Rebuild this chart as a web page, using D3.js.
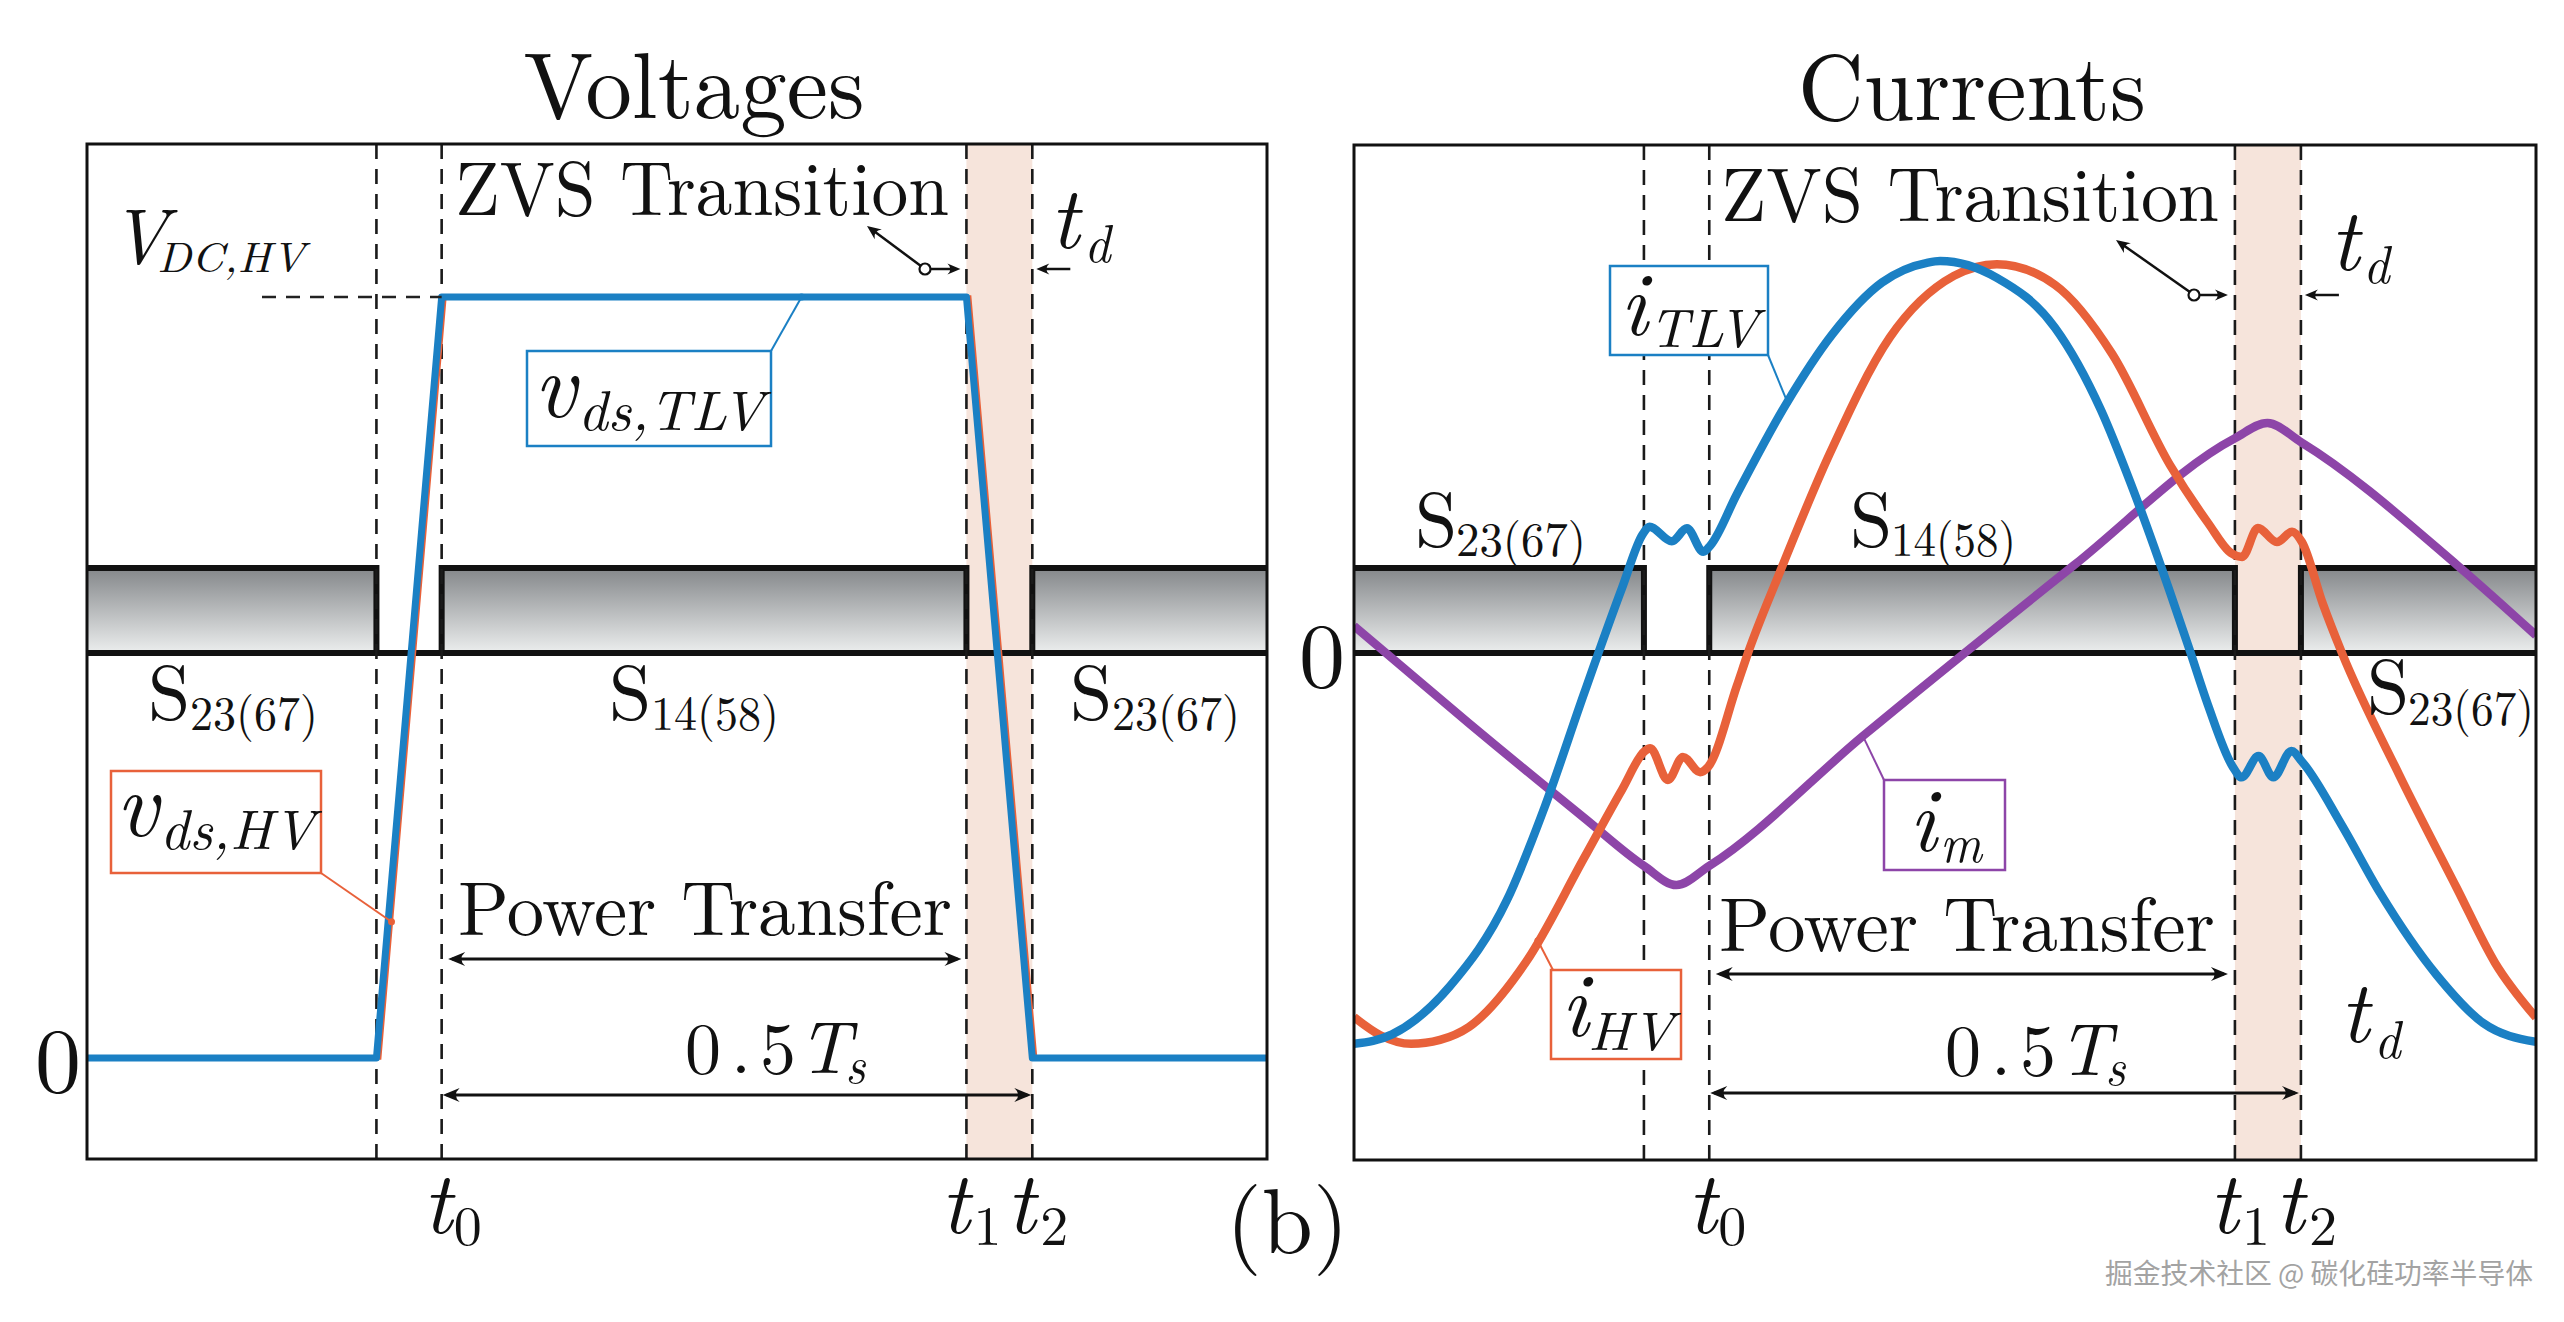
<!DOCTYPE html>
<html><head><meta charset="utf-8">
<script src="https://cdn.jsdelivr.net/npm/d3@7"></script>
<style>html,body{margin:0;padding:0;background:#fff;} svg{display:block}</style>
</head><body>
<svg id="chart" width="2564" height="1322"></svg>
<script>
// ================= DATA (time in electrical degrees over one switching period) =================
const timeMarkers = [88.3, 108.2, 268.3, 288.4];          // dead-time start, t0, t1, t2
const gateOnIntervals = [[0, 88.3], [108.2, 268.3], [288.4, 360]];
const gateLevels = [0, 1];                                  // gate signal low / high

// Voltages panel (normalised to V_DC,HV)
const vdsTLV_t = [0, 88.3, 108.2, 268.3, 288.4, 360];
const vdsTLV_v = [0, 0, 1, 1, 0, 0];
const vdsHV_t  = [0, 89.3, 109.2, 269.3, 289.4, 360];
const vdsHV_v  = [0, 0, 1, 1, 0, 0];

// Currents panel (normalised to peak of i_TLV)
const iTLV_t = [0, 11.6, 29.2, 46.6, 58.2, 70.0, 81.6, 88.0, 90.0, 96.8, 101.4, 106.4, 108.6, 116.6, 131.6, 145.6, 160.8, 174.8, 178.5, 195.8, 213.5, 227.5, 236.7, 248.5, 254.3, 260.1, 267.7, 270.3, 275.5, 280.0, 285.5, 288.8, 300.9, 312.5, 329.8, 343.9, 360];
const iTLV_v = [-0.997, -0.973, -0.850, -0.630, -0.390, -0.105, 0.165, 0.304, 0.322, 0.285, 0.318, 0.258, 0.275, 0.405, 0.635, 0.812, 0.945, 0.996, 1.0, 0.957, 0.830, 0.620, 0.430, 0.156, 0.013, -0.133, -0.291, -0.317, -0.263, -0.317, -0.250, -0.278, -0.440, -0.612, -0.822, -0.944, -0.992];

const iHV_t = [0, 8.0, 17.4, 26.2, 35.0, 52.4, 70.0, 81.6, 88.6, 90.2, 95.6, 100.2, 105.4, 107.8, 116.6, 120.0, 129.4, 144.7, 163.2, 182.7, 195.8, 213.5, 230.9, 248.5, 260.1, 267.1, 270.5, 275.3, 281.1, 285.7, 288.7, 295.1, 300.9, 318.3, 335.9, 347.5, 360];
const iHV_v = [-0.929, -0.975, -0.997, -0.987, -0.954, -0.788, -0.524, -0.349, -0.250, -0.243, -0.324, -0.265, -0.304, -0.291, -0.084, 0.0, 0.200, 0.505, 0.805, 0.962, 0.992, 0.939, 0.763, 0.480, 0.332, 0.255, 0.245, 0.319, 0.283, 0.309, 0.283, 0.125, 0.0, -0.310, -0.600, -0.790, -0.930];

const im_t = [0, 35.0, 70.0, 88.3, 98.2, 108.2, 155.0, 219.3, 268.3, 278.2, 288.4, 336.0, 360];
const im_v = [0.069, -0.179, -0.420, -0.543, -0.592, -0.543, -0.212, 0.224, 0.548, 0.587, 0.538, 0.224, 0.045];

const panelTitles = ["Voltages", "Currents"];
const zeroTick = [0];

// ================= STYLE =================
const FONT = "'Latin Modern Roman','CMU Serif','Liberation Serif','Times New Roman',serif";
const BLUE = "#1b80c4", RED = "#e8613a", PURPLE = "#8d45a8", INK = "#111";
const BAND = "#f6e4db";

const svg = d3.select("#chart");
const defs = svg.append("defs");
const grad = defs.append("linearGradient").attr("id", "gateGrad")
  .attr("x1", 0).attr("y1", 0).attr("x2", 0).attr("y2", 1);
grad.append("stop").attr("offset", "0%").attr("stop-color", "#84878a");
grad.append("stop").attr("offset", "100%").attr("stop-color", "#eceeee");

function T(g, x, y, s, size, o = {}) {
  const t = g.append("text").attr("x", x).attr("y", y).text(s)
    .attr("font-family", FONT).attr("font-size", size).attr("fill", o.fill || INK);
  if (o.italic) t.attr("font-style", "italic");
  if (o.anchor) t.attr("text-anchor", o.anchor);
  if (o.len) t.attr("textLength", o.len).attr("lengthAdjust", o.adj || "spacingAndGlyphs");
  return t;
}
function head(g, x, y, ang, L = 15, W = 6.5) {
  g.append("path")
    .attr("d", `M0,0 L${-L},${-W} Q${-L * 0.55},0 ${-L},${W} Z`)
    .attr("transform", `translate(${x},${y}) rotate(${ang})`)
    .attr("fill", INK);
}
function hArrow(g, xa, xb, y, both) {
  g.append("line").attr("x1", xa + (both ? 4 : 0)).attr("x2", xb - 4).attr("y1", y).attr("y2", y)
    .attr("stroke", INK).attr("stroke-width", 3);
  head(g, xb, y, 0, 17, 7);
  if (both) head(g, xa, y, 180, 17, 7);
}
function zvsPointer(g, cx, cy, ux, uy, tipX) {
  g.append("line").attr("x1", cx + 5).attr("y1", cy).attr("x2", tipX - 5).attr("y2", cy)
    .attr("stroke", INK).attr("stroke-width", 2.5);
  head(g, tipX, cy, 0, 13, 5.5);
  const ang = Math.atan2(uy - cy, ux - cx) * 180 / Math.PI;
  const r = 5.5, ca = Math.cos(ang * Math.PI / 180), sa = Math.sin(ang * Math.PI / 180);
  g.append("line").attr("x1", cx + r * ca).attr("y1", cy + r * sa).attr("x2", ux - 6 * ca).attr("y2", uy - 6 * sa)
    .attr("stroke", INK).attr("stroke-width", 2.5);
  head(g, ux, uy, ang, 14, 6);
  g.append("circle").attr("cx", cx).attr("cy", cy).attr("r", r)
    .attr("fill", "#fff").attr("stroke", INK).attr("stroke-width", 2.2);
}
function tdArrow(g, tip, y) {
  g.append("line").attr("x1", tip + 34).attr("x2", tip + 5).attr("y1", y).attr("y2", y)
    .attr("stroke", INK).attr("stroke-width", 2.5);
  head(g, tip, y, 180, 13, 5.5);
}
function halfPeriodLabel(g, x0, base) {
  T(g, x0, base, "0", 72);
  T(g, x0 + 46, base, ".", 72);
  T(g, x0 + 75, base, "5", 72);
  T(g, x0 + 113, base, "T", 74, { italic: true });
  T(g, x0 + 160, base + 10, "s", 50, { italic: true });
}

function drawPanel(box) {
  const g = svg.append("g");
  const x = d3.scaleLinear().domain([0, 360]).range([box.x0, box.x1]);
  const yGate = d3.scaleLinear().domain(gateLevels).range([653, 568]);
  const clipId = "clip" + box.x0;
  defs.append("clipPath").attr("id", clipId).append("rect")
    .attr("x", box.x0).attr("y", box.y0).attr("width", box.x1 - box.x0).attr("height", box.y1 - box.y0);

  // dead-time band (t1..t2)
  g.append("rect").attr("x", x(timeMarkers[2])).attr("y", box.y0)
    .attr("width", x(timeMarkers[3]) - x(timeMarkers[2])).attr("height", box.y1 - box.y0)
    .attr("fill", BAND);

  // gate bars
  const gate = g.append("g");
  gateOnIntervals.forEach(([a, b]) => {
    gate.append("rect").attr("x", x(a)).attr("y", yGate(1))
      .attr("width", x(b) - x(a)).attr("height", yGate(0) - yGate(1))
      .attr("fill", "url(#gateGrad)");
  });
  gateOnIntervals.forEach(([a, b]) => {
    let d = "";
    if (a > 0) d += `M${x(a)},${yGate(0)} L${x(a)},${yGate(1)} `; else d += `M${x(a)},${yGate(1)} `;
    d += `L${x(b)},${yGate(1)} `;
    if (b < 360) d += `L${x(b)},${yGate(0)}`;
    gate.append("path").attr("d", d).attr("fill", "none").attr("stroke", INK)
      .attr("stroke-width", 6).attr("stroke-linejoin", "miter");
  });
  gate.append("line").attr("x1", x(0)).attr("x2", x(360)).attr("y1", yGate(0)).attr("y2", yGate(0))
    .attr("stroke", INK).attr("stroke-width", 6);

  // dashed time markers
  g.selectAll("line.mk").data(timeMarkers).join("line").attr("class", "mk")
    .attr("x1", d => x(d)).attr("x2", d => x(d)).attr("y1", box.y0).attr("y2", box.y1)
    .attr("stroke", "#1a1a1a").attr("stroke-width", 2.6).attr("stroke-dasharray", "15,10");

  // frame
  svg.append("rect").attr("x", box.x0).attr("y", box.y0)
    .attr("width", box.x1 - box.x0).attr("height", box.y1 - box.y0)
    .attr("fill", "none").attr("stroke", INK).attr("stroke-width", 3);

  const curves = g.append("g").attr("clip-path", `url(#${clipId})`);
  return { g, x, curves };
}
function zeroAxis(box, y, pad) {
  const ax = svg.append("g").attr("transform", `translate(${box.x0},0)`)
    .call(d3.axisLeft(y).tickValues(zeroTick).tickFormat(d3.format("d")).tickSize(0).tickPadding(pad));
  ax.select(".domain").remove();
  ax.selectAll("text").attr("font-family", FONT).attr("font-size", 92).attr("fill", INK).attr("dy", "0.36em");
}

// ================= LEFT PANEL: Voltages =================
const boxL = { x0: 87, x1: 1267, y0: 144, y1: 1159 };
const yL = d3.scaleLinear().domain([0, 1]).range([1058, 297]);
const L = drawPanel(boxL);
const xL = L.x;

// V_DC,HV dashed reference
L.g.append("line").attr("x1", 262).attr("x2", xL(timeMarkers[1])).attr("y1", yL(1)).attr("y2", yL(1))
  .attr("stroke", "#222").attr("stroke-width", 2.5).attr("stroke-dasharray", "14,10");

const lineL = d3.line().x(d => xL(d[0])).y(d => yL(d[1])).curve(d3.curveLinear);
L.curves.append("path").attr("d", lineL(d3.zip(vdsHV_t, vdsHV_v)))
  .attr("fill", "none").attr("stroke", RED).attr("stroke-width", 3.5);
L.curves.append("path").attr("d", lineL(d3.zip(vdsTLV_t, vdsTLV_v)))
  .attr("fill", "none").attr("stroke", BLUE).attr("stroke-width", 7).attr("stroke-linejoin", "round");

zeroAxis(boxL, yL, 6);

const aL = svg.append("g");
T(aL, 694, 118, panelTitles[0], 94, { anchor: "middle", len: 341 });
T(aL, 455, 215, "ZVS Transition", 76, { len: 494 });
T(aL, 110, 263, "V", 78, { italic: true });
T(aL, 157, 272, "DC,HV", 42, { italic: true, len: 148 });
T(aL, 1050, 248, "t", 88, { italic: true });
T(aL, 1084, 262, "d", 52, { italic: true });
zvsPointer(aL, 925, 269, 867, 226, xL(timeMarkers[2]) - 6);
tdArrow(aL, xL(timeMarkers[3]) + 4, 269);

// v_ds,TLV label
aL.append("line").attr("x1", 771).attr("y1", 351).attr("x2", xL(218)).attr("y2", yL(1))
  .attr("stroke", BLUE).attr("stroke-width", 2);
aL.append("circle").attr("cx", xL(218)).attr("cy", yL(1)).attr("r", 3.5).attr("fill", BLUE);
aL.append("rect").attr("x", 527).attr("y", 351).attr("width", 244).attr("height", 95)
  .attr("fill", "#fff").attr("stroke", BLUE).attr("stroke-width", 2.5);
T(aL, 534, 417, "v", 92, { italic: true });
T(aL, 578, 430, "ds,TLV", 56, { italic: true, len: 186 });

// S labels
[[148, "23(67)"], [609, "14(58)"], [1070, "23(67)"]].forEach(([sx, sub]) => {
  T(aL, sx, 719, "S", 76);
  T(aL, sx + 42, 730, sub, 48, { len: 128 });
});

// v_ds,HV label
aL.append("line").attr("x1", 321).attr("y1", 873).attr("x2", xL(92.9)).attr("y2", yL(0.179))
  .attr("stroke", RED).attr("stroke-width", 2);
aL.append("circle").attr("cx", xL(92.9)).attr("cy", yL(0.179)).attr("r", 3.5).attr("fill", RED);
aL.append("rect").attr("x", 111).attr("y", 771).attr("width", 210).attr("height", 102)
  .attr("fill", "#fff").attr("stroke", RED).attr("stroke-width", 2.5);
T(aL, 116, 836, "v", 92, { italic: true });
T(aL, 160, 849, "ds,HV", 56, { italic: true, len: 155 });

// Power transfer / 0.5Ts
T(aL, 458, 935, "Power Transfer", 76, { len: 494 });
hArrow(aL, xL(timeMarkers[1]) + 6.5, xL(timeMarkers[2]) - 5, 959, true);
halfPeriodLabel(aL, 685, 1073);
hArrow(aL, xL(timeMarkers[1]) + 1, xL(timeMarkers[3]) - 1, 1095, true);

// t labels
T(aL, xL(timeMarkers[1]) - 19, 1233, "t", 88, { italic: true });
T(aL, xL(timeMarkers[1]) + 12, 1245, "0", 56);
T(aL, xL(timeMarkers[2]) - 26, 1233, "t", 88, { italic: true });
T(aL, xL(timeMarkers[2]) + 7, 1245, "1", 56);
T(aL, xL(timeMarkers[3]) - 26, 1233, "t", 88, { italic: true });
T(aL, xL(timeMarkers[3]) + 8, 1245, "2", 56);
T(aL, 1226, 1253, "(b)", 92);

// ================= RIGHT PANEL: Currents =================
const boxR = { x0: 1354, x1: 2536, y0: 145, y1: 1160 };
const yR = d3.scaleLinear().domain([0, 1]).range([653, 261]);
const R = drawPanel(boxR);
const xR = R.x;

const mono = d3.line().x(d => xR(d[0])).y(d => yR(d[1])).curve(d3.curveMonotoneX);
R.curves.append("path").attr("d", mono(d3.zip(im_t, im_v)))
  .attr("fill", "none").attr("stroke", PURPLE).attr("stroke-width", 8.5);
R.curves.append("path").attr("d", mono(d3.zip(iHV_t, iHV_v)))
  .attr("fill", "none").attr("stroke", RED).attr("stroke-width", 8.5).attr("stroke-linejoin", "round");
R.curves.append("path").attr("d", mono(d3.zip(iTLV_t, iTLV_v)))
  .attr("fill", "none").attr("stroke", BLUE).attr("stroke-width", 8.5).attr("stroke-linejoin", "round");

zeroAxis(boxR, yR, 9);

const aR = svg.append("g");
T(aR, 1972, 120, panelTitles[1], 94, { anchor: "middle", len: 348 });
T(aR, 1721, 221, "ZVS Transition", 76, { len: 498 });
T(aR, 2330, 270, "t", 88, { italic: true });
T(aR, 2363, 283, "d", 52, { italic: true });
zvsPointer(aR, 2194, 295, 2116, 240, xR(timeMarkers[2]) - 7);
tdArrow(aR, xR(timeMarkers[3]) + 4, 295);

// S labels
T(aR, 1415, 546, "S", 76); T(aR, 1456, 556, "23(67)", 48, { len: 130 });
T(aR, 1850, 546, "S", 76); T(aR, 1891, 556, "14(58)", 48, { len: 125 });
T(aR, 2367, 713, "S", 76); T(aR, 2408, 725, "23(67)", 48, { len: 126 });

// i_TLV label
aR.append("line").attr("x1", 1768).attr("y1", 355).attr("x2", xR(132)).attr("y2", yR(0.64))
  .attr("stroke", BLUE).attr("stroke-width", 2);
aR.append("circle").attr("cx", xR(132)).attr("cy", yR(0.64)).attr("r", 3.5).attr("fill", BLUE);
aR.append("rect").attr("x", 1610).attr("y", 266).attr("width", 158).attr("height", 89)
  .attr("fill", "#fff").attr("stroke", BLUE).attr("stroke-width", 2.5);
T(aR, 1620, 335, "i", 90, { italic: true });
T(aR, 1649, 347, "TLV", 54, { italic: true, len: 110 });

// i_m label
aR.append("line").attr("x1", 1884).attr("y1", 780).attr("x2", xR(155)).attr("y2", yR(-0.212))
  .attr("stroke", PURPLE).attr("stroke-width", 2);
aR.append("circle").attr("cx", xR(155)).attr("cy", yR(-0.212)).attr("r", 3.5).attr("fill", PURPLE);
aR.append("rect").attr("x", 1884).attr("y", 780).attr("width", 121).attr("height", 90)
  .attr("fill", "#fff").attr("stroke", PURPLE).attr("stroke-width", 2.5);
T(aR, 1909, 851, "i", 90, { italic: true });
T(aR, 1940, 862, "m", 54, { italic: true, len: 42 });

// i_HV label
aR.append("line").attr("x1", 1553).attr("y1", 970).attr("x2", xR(56)).attr("y2", yR(-0.734))
  .attr("stroke", RED).attr("stroke-width", 2);
aR.append("circle").attr("cx", xR(56)).attr("cy", yR(-0.734)).attr("r", 3.5).attr("fill", RED);
aR.append("rect").attr("x", 1551).attr("y", 970).attr("width", 130).attr("height", 89)
  .attr("fill", "#fff").attr("stroke", RED).attr("stroke-width", 2.5);
T(aR, 1561, 1036, "i", 90, { italic: true });
T(aR, 1588, 1050, "HV", 54, { italic: true, len: 86 });

// Power transfer / 0.5Ts / td
T(aR, 1719, 951, "Power Transfer", 76, { len: 496 });
hArrow(aR, xR(timeMarkers[1]) + 6.5, xR(timeMarkers[2]) - 7, 974, true);
halfPeriodLabel(aR, 1945, 1075);
hArrow(aR, xR(timeMarkers[1]) + 1, xR(timeMarkers[3]) - 2, 1093, true);
T(aR, 2340, 1042, "t", 88, { italic: true });
T(aR, 2374, 1058, "d", 52, { italic: true });

// t labels
T(aR, xR(timeMarkers[1]) - 22, 1233, "t", 88, { italic: true });
T(aR, xR(timeMarkers[1]) + 9, 1245, "0", 56);
T(aR, xR(timeMarkers[2]) - 26, 1233, "t", 88, { italic: true });
T(aR, xR(timeMarkers[2]) + 7, 1245, "1", 56);
T(aR, xR(timeMarkers[3]) - 26, 1233, "t", 88, { italic: true });
T(aR, xR(timeMarkers[3]) + 8, 1245, "2", 56);

// watermark
svg.append("text").attr("x", 2533).attr("y", 1284).attr("text-anchor", "end")
  .attr("font-family", "'Noto Sans CJK SC',sans-serif").attr("font-size", 28)
  .attr("fill", "#a3a3a3").attr("textLength", 428).attr("lengthAdjust", "spacingAndGlyphs")
  .text("掘金技术社区 @ 碳化硅功率半导体");
</script>
</body></html>
